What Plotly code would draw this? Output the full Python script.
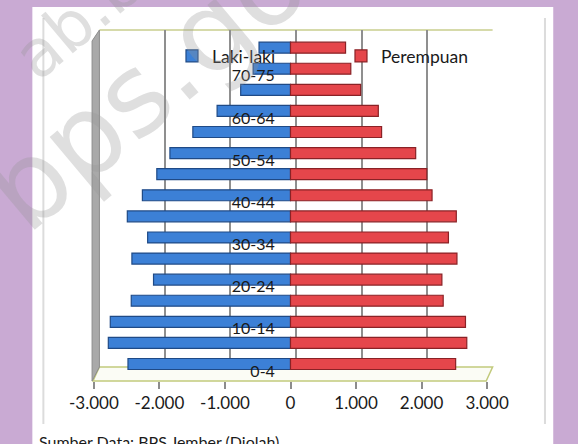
import plotly.graph_objects as go

# ---- data ----
age_groups = ["0-4", "5-9", "10-14", "15-19", "20-24", "25-29", "30-34", "35-39",
              "40-44", "45-49", "50-54", "55-59", "60-64", "65-69", "70-75", "75+"]
laki_laki = [2480, 2780, 2750, 2430, 2090, 2420, 2180, 2490,
             2260, 2040, 1840, 1490, 1120, 760, 570, 480]
perempuan = [2520, 2690, 2670, 2330, 2310, 2540, 2410, 2530,
             2160, 2080, 1910, 1390, 1340, 1070, 920, 840]
shown_age_labels = ["0-4", "10-14", "20-24", "30-34", "40-44", "50-54", "60-64", "70-75"]
x_tick_values = [-3000, -2000, -1000, 0, 1000, 2000, 3000]
x_tick_labels = ["-3.000", "-2.000", "-1.000", "0", "1.000", "2.000", "3.000"]
source_note = "Sumber Data: BPS Jember (Diolah)"

W, H = 578, 444
FONT = "Lato"


def fx(px):
    return px / W


def fy(py):
    return (H - py) / H


fig = go.Figure()

# invisible trace that carries the back-wall grid (xaxis / yaxis)
fig.add_trace(go.Scatter(x=[], y=[], xaxis="x", yaxis="y", showlegend=False,
                         hoverinfo="skip"))

fig.add_trace(go.Bar(
    y=age_groups, x=[-v for v in laki_laki], name="Laki-laki", orientation="h",
    xaxis="x2", yaxis="y2", width=0.52,
    marker=dict(color="#3C80D6", line=dict(color="#1F4A86", width=1.2)),
    customdata=laki_laki, hovertemplate="%{y}: %{customdata}<extra>Laki-laki</extra>",
))
fig.add_trace(go.Bar(
    y=age_groups, x=perempuan, name="Perempuan", orientation="h",
    xaxis="x2", yaxis="y2", width=0.52,
    marker=dict(color="#E5464B", line=dict(color="#8A2226", width=1.2)),
    hovertemplate="%{y}: %{x}<extra>Perempuan</extra>",
))

shapes = [
    # white card inside purple border
    dict(type="rect", xref="paper", yref="paper", x0=fx(8), x1=fx(575), y0=fy(460), y1=fy(7),
         fillcolor="white", line=dict(width=0), layer="below"),
    # faint chart frame
    dict(type="line", xref="paper", yref="paper", x0=fx(20), x1=fx(20), y0=fy(424), y1=fy(18),
         line=dict(color="#dcdcdc", width=2), layer="below"),
    dict(type="line", xref="paper", yref="paper", x0=fx(566), x1=fx(566), y0=fy(424), y1=fy(18),
         line=dict(color="#dcdcdc", width=2), layer="below"),
    # floor
    dict(type="path", xref="paper", yref="paper",
         path=f"M{fx(81)},{fy(367)} L{fx(509)},{fy(367)} L{fx(502)},{fy(381)} L{fx(74)},{fy(381)} Z",
         fillcolor="#fbfcf5", line=dict(color="#c2ca7c", width=1.5), layer="below"),
    # back wall top edge
    dict(type="line", xref="paper", yref="paper", x0=fx(81), x1=fx(509), y0=fy(30), y1=fy(30),
         line=dict(color="#c9ce8e", width=1.5), layer="below"),
    # left side wall
    dict(type="path", xref="paper", yref="paper",
         path=f"M{fx(73)},{fy(41)} L{fx(81)},{fy(30)} L{fx(81)},{fy(367)} L{fx(73)},{fy(381)} Z",
         fillcolor="#a9a9a9", line=dict(color="#8c8c8c", width=1), layer="below"),
]

annotations = [
    dict(text=source_note, xref="paper", yref="paper", x=fx(13), y=fy(441),
         xanchor="left", yanchor="middle", showarrow=False,
         font=dict(family=FONT, size=16, color="#1a1a1a")),
    # watermark
    dict(text="bps.go.id", xref="paper", yref="paper", x=fx(188), y=fy(42),
         xanchor="center", yanchor="middle", showarrow=False, textangle=-40,
         font=dict(family="DejaVu Sans", size=112, color="rgba(150,150,150,0.3)")),
    dict(text="ab.b", xref="paper", yref="paper", x=fx(58), y=fy(20),
         xanchor="center", yanchor="middle", showarrow=False, textangle=-40,
         font=dict(family="DejaVu Sans", size=65, color="rgba(150,150,150,0.3)")),
]

fig.update_layout(
    width=W, height=H,
    margin=dict(l=0, r=0, t=0, b=0),
    paper_bgcolor="#C9AAD3",
    plot_bgcolor="rgba(0,0,0,0)",
    barmode="relative",
    font=dict(family=FONT, size=16, color="#1a1a1a"),
    showlegend=True,
    legend=dict(orientation="h", x=fx(160), xanchor="left", y=fy(56), yanchor="middle",
                bgcolor="rgba(0,0,0,0)", font=dict(family=FONT, size=17.5, color="#1a1a1a"),
                itemwidth=30, entrywidth=124, entrywidthmode="pixels",
                traceorder="normal"),
    # back wall (grid)
    xaxis=dict(domain=[fx(81), fx(509)], range=[-3000, 3000], anchor="y",
               tickvals=x_tick_values, showticklabels=False, ticks="",
               showgrid=True, gridcolor="#8f8f8f", gridwidth=1.5,
               zeroline=False, showline=False, fixedrange=True),
    yaxis=dict(domain=[fy(367), fy(30)], range=[0, 1], anchor="x",
               showgrid=False, showticklabels=False, zeroline=False, showline=False,
               fixedrange=True),
    # bars (front)
    xaxis2=dict(domain=[fx(75), fx(503)], range=[-3000, 3000], anchor="y2",
                tickvals=x_tick_values, ticktext=x_tick_labels,
                ticks="outside", ticklen=7, tickwidth=2, tickcolor="#8c8c8c",
                showgrid=False, zeroline=False, showline=False,
                tickfont=dict(family=FONT, size=17, color="#1a1a1a"), fixedrange=True),
    yaxis2=dict(domain=[fy(381), fy(37.1)], type="category",
                categoryorder="array", categoryarray=age_groups,
                range=[-0.806, 15.5], anchor="free", position=fx(272),
                tickvals=shown_age_labels, ticktext=shown_age_labels,
                ticks="", showgrid=False, zeroline=False, showline=False,
                ticklabelshift=7,
                tickfont=dict(family=FONT, size=16, color="#1a1a1a"), fixedrange=True),
    shapes=shapes,
    annotations=annotations,
)

fig.write_html("out.html", config={"displayModeBar": False},
               post_script="document.body.style.margin='0';document.body.style.background='#C9AAD3';")
